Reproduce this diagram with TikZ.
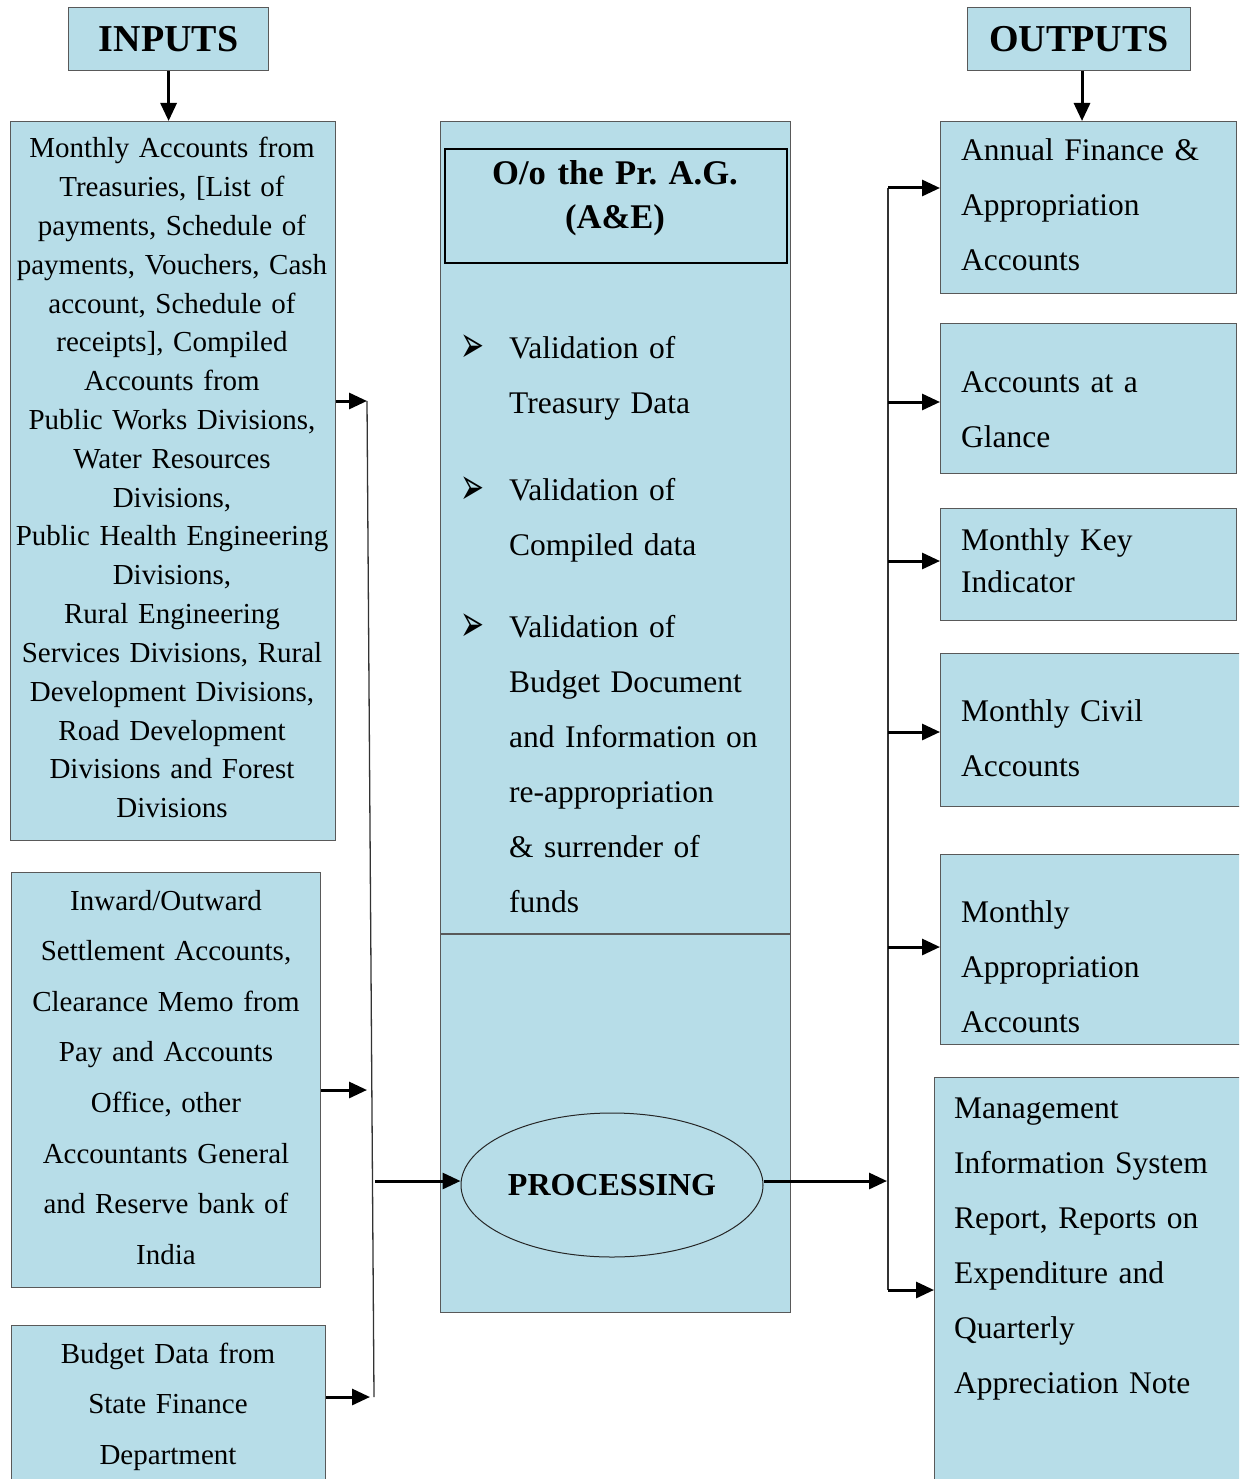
\documentclass[tikz,border=0pt]{standalone}
\usepackage{fontspec}
\setmainfont{Liberation Serif}
\newfontfamily\dejavu{DejaVu Sans}
\usetikzlibrary{shapes,arrows.meta}
\frenchspacing

\definecolor{boxblue}{RGB}{183,221,232}

\begin{document}
\begin{tikzpicture}[x=1pt,y=-1pt,
  bluebox/.style={draw=black!65,line width=1.2pt,fill=boxblue,rectangle,inner sep=0pt,anchor=north west},
  headtxt/.style={font=\fontsize{38}{44}\bfseries},
  intxt/.style={inner sep=0pt,anchor=base,text width=330pt,align=center},
  outtxt/.style={inner sep=0pt,anchor=base west,text width=290pt,align=left,font=\fontsize{31.5}{55}\selectfont},
  bullet/.style={inner sep=0pt,anchor=base,font=\fontsize{26}{30}\dejavu},
  arr/.style={line width=3pt,-{Triangle[length=18pt,width=16pt]}},
  bus/.style={line width=1.3pt,black!80}]
\useasboundingbox (0,0) rectangle (1239,1479);
\clip (0,0) rectangle (1239,1479);

% headings
\node[bluebox,minimum width=200pt,minimum height=63pt,headtxt] (inputs) at (68,7) {INPUTS};
\node[bluebox,minimum width=223pt,minimum height=63pt,headtxt] (outputs) at (967,7) {OUTPUTS};

% input boxes
\node[bluebox,minimum width=325pt,minimum height=719pt] (in1) at (10,121) {};
\node[bluebox,minimum width=309pt,minimum height=415pt] (in2) at (11,872) {};
\node[bluebox,minimum width=314pt,minimum height=180pt] (in3) at (11,1325) {};
\node[intxt,font=\fontsize{29}{38.8}\selectfont] (in1t) at (172,158) {Monthly Accounts from\\Treasuries, [List of\\payments, Schedule of\\payments, Vouchers, Cash\\account, Schedule of\\receipts], Compiled\\Accounts from\\Public Works Divisions,\\Water Resources\\Divisions,\\Public Health Engineering\\Divisions,\\Rural Engineering\\Services Divisions, Rural\\Development Divisions,\\Road Development\\Divisions and Forest\\Divisions};
\node[intxt,font=\fontsize{29}{50.6}\selectfont] (in2t) at (166,910) {Inward/Outward\\Settlement Accounts,\\Clearance Memo from\\Pay and Accounts\\Office, other\\Accountants General\\and Reserve bank of\\India};
\node[intxt,font=\fontsize{29}{50.5}\selectfont] (in3t) at (168,1363) {Budget Data from\\State Finance\\Department};

% centre
\node[bluebox,minimum width=350pt,minimum height=1191pt] (main) at (440,121) {};
\coordinate (split) at (600,934);
\draw[draw=black!65,line width=1.2pt] (main.west |- split) -- (main.east |- split);
\node[bluebox,draw=black,line width=2.4pt,minimum width=342pt,minimum height=114pt] (title) at (444,148) {};
\node[inner sep=0pt,anchor=base,text width=340pt,align=center,font=\fontsize{34.6}{44}\bfseries] (titlet) at (615,185) {O/o the Pr. A.G.\\(A\&E)};
\node[bullet] (bul1) at (472,362) {\scalebox{1.1}[2]{➢}};
\node[bullet] (bul2) at (472,504) {\scalebox{1.1}[2]{➢}};
\node[bullet] (bul3) at (472,641) {\scalebox{1.1}[2]{➢}};
\node[outtxt] (val1) at (509,358) {Validation of\\Treasury Data};
\node[outtxt] (val2) at (509,500) {Validation of\\Compiled data};
\node[outtxt] (val3) at (509,637) {Validation of\\Budget Document\\and Information on\\re-appropriation\\\& surrender of\\funds};
\node[ellipse,draw=black!85,line width=1pt,fill=boxblue,inner sep=0pt,minimum width=302pt,minimum height=144pt,font=\fontsize{32}{36}\bfseries] (proc) at (612,1185) {PROCESSING};

% output boxes
\node[bluebox,minimum width=296pt,minimum height=172pt] (out1) at (940,121) {};
\node[bluebox,minimum width=296pt,minimum height=150pt] (out2) at (940,323) {};
\node[bluebox,minimum width=296pt,minimum height=112pt] (out3) at (940,508) {};
\node[bluebox,minimum width=310pt,minimum height=153pt] (out4) at (940,653) {};
\node[bluebox,minimum width=310pt,minimum height=190pt] (out5) at (940,854) {};
\node[bluebox,minimum width=316pt,minimum height=420pt] (out6) at (934,1077) {};
\node[outtxt] (out1t) at (961,161) {Annual Finance \&\\Appropriation\\Accounts};
\node[outtxt] (out2t) at (961,392) {Accounts at a\\Glance};
\node[outtxt,font=\fontsize{31.5}{42}\selectfont] (out3t) at (961,550) {Monthly Key\\Indicator};
\node[outtxt] (out4t) at (961,721) {Monthly Civil\\Accounts};
\node[outtxt] (out5t) at (961,922) {Monthly\\Appropriation\\Accounts};
\node[outtxt] (out6t) at (954,1118) {Management\\Information System\\Report, Reports on\\Expenditure and\\Quarterly\\Appreciation Note};

% connectors
\draw[arr] (inputs.south) -- (inputs.south |- in1.north);
\draw[arr] (outputs.south -| 1082,0) -- (1082,121);

\coordinate (lb1) at (367,401);
\coordinate (lb2) at (367,1090);
\coordinate (lb3) at (370,1397);
\coordinate (ltop) at (367,401);
\coordinate (lbot) at (374,1397);
\coordinate (lmid) at (375,1181);
\draw[bus] (ltop) -- (lbot);
\draw[arr] (in1.east |- lb1) -- (lb1);
\draw[arr] (in2.east |- lb2) -- (lb2);
\draw[arr] (in3.east |- lb3) -- (lb3);
\draw[arr] (lmid) -- (proc.west |- lmid);

\coordinate (rtop) at (888,188);
\coordinate (rbot) at (888,1290);
\coordinate (rmid) at (887,1181);
\draw[bus] (rtop) -- (rbot);
\draw[arr] (proc.east |- rmid) -- (rmid);
\draw[arr] (rtop) -- (out1.west |- rtop);
\draw[arr] (888,402) -- (out2.west |- 0,402);
\draw[arr] (888,561) -- (out3.west |- 0,561);
\draw[arr] (888,732) -- (out4.west |- 0,732);
\draw[arr] (888,947) -- (out5.west |- 0,947);
\draw[arr] (rbot) -- (out6.west |- rbot);
\end{tikzpicture}
\end{document}
